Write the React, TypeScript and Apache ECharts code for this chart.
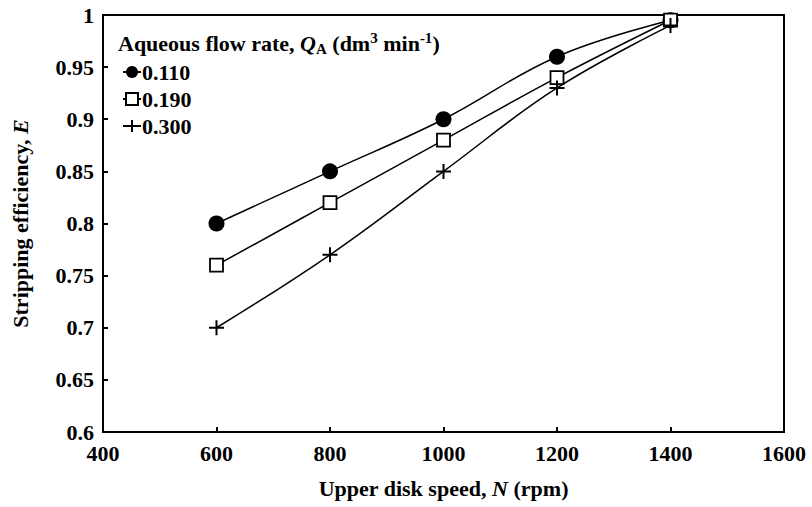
import React, { useEffect, useRef } from "react";
import * as echarts from "echarts";

const speeds = [600, 800, 1000, 1200, 1400];
const seriesNames = ["0.110", "0.190", "0.300"];
const eff110 = [0.8, 0.85, 0.9, 0.96, 0.995];
const eff190 = [0.76, 0.82, 0.88, 0.94, 0.995];
const eff300 = [0.7, 0.77, 0.85, 0.93, 0.99];

const FONT = "Liberation Serif";

export default function App() {
  const ref = useRef<HTMLDivElement>(null);
  useEffect(() => {
    document.body.style.margin = "0";
    const chart = echarts.init(ref.current!, null, { renderer: "svg" });
    const mk = (vals: number[]) => speeds.map((s, i) => [s, vals[i]]);
    const plusPath = "path://M0,10L20,10M10,0L10,20";
    chart.setOption({
      animation: false,
      backgroundColor: "#fff",
      grid: {
        left: 103,
        right: 28,
        top: 15,
        bottom: 75,
        outerBoundsMode: "none",
        containLabel: false,
        show: true,
        borderColor: "#000",
        borderWidth: 2,
      },
      xAxis: {
        type: "value",
        min: 400,
        max: 1600,
        interval: 200,
        name: "Upper disk speed, {i|N} (rpm)",
        nameLocation: "middle",
        nameGap: 45,
        nameTextStyle: {
          fontFamily: FONT,
          fontWeight: "bold",
          fontSize: 22,
          color: "#000",
          rich: { i: { fontFamily: FONT, fontWeight: "bold", fontStyle: "italic", fontSize: 22, color: "#000" } },
        },
        axisLine: { lineStyle: { color: "#000", width: 2 } },
        axisTick: { inside: true, length: 5, lineStyle: { color: "#000", width: 2 } },
        axisLabel: {
          fontFamily: FONT,
          fontWeight: "bold",
          fontSize: 22,
          color: "#000",
          margin: 10,
          formatter: (v: number) => String(v),
        },
        splitLine: { show: false },
      },
      yAxis: {
        type: "value",
        min: 0.6,
        max: 1,
        interval: 0.05,
        name: "Stripping efficiency, {i|E}",
        nameLocation: "middle",
        nameGap: 72,
        nameTextStyle: {
          fontFamily: FONT,
          fontWeight: "bold",
          fontSize: 22,
          color: "#000",
          rich: { i: { fontFamily: FONT, fontWeight: "bold", fontStyle: "italic", fontSize: 22, color: "#000" } },
        },
        axisLine: { lineStyle: { color: "#000", width: 2 } },
        axisTick: { inside: true, length: 5, lineStyle: { color: "#000", width: 2 } },
        axisLabel: {
          fontFamily: FONT,
          fontWeight: "bold",
          fontSize: 22,
          color: "#000",
          margin: 9,
          formatter: (v: number) => String(Math.round(v * 100) / 100),
        },
        splitLine: { show: false },
      },
      legend: {
        orient: "vertical",
        left: 117,
        top: 56,
        itemGap: 5,
        itemWidth: 18,
        itemHeight: 15,
        textStyle: { fontFamily: FONT, fontWeight: "bold", fontSize: 22, color: "#000", padding: [0, 0, 0, -4] },
        data: seriesNames,
      },
      graphic: [
        {
          type: "text",
          left: 118,
          top: 30,
          style: {
            text: "{b|Aqueous flow rate, }{i|Q}{sub|A}{b| (dm}{sup|3}{b| min}{sup|-1}{b|)}",
            rich: {
              b: { fontFamily: FONT, fontWeight: "bold", fontSize: 22, fill: "#000", lineHeight: 26 },
              i: { fontFamily: FONT, fontWeight: "bold", fontStyle: "italic", fontSize: 22, fill: "#000", lineHeight: 26 },
              sub: { fontFamily: FONT, fontWeight: "bold", fontSize: 15, fill: "#000", verticalAlign: "bottom", lineHeight: 17, padding: [9, 0, 0, 0] },
              sup: { fontFamily: FONT, fontWeight: "bold", fontSize: 15, fill: "#000", verticalAlign: "top", lineHeight: 17, padding: [0, 0, 11, 0] },
            },
          },
        },
      ],
      series: [
        {
          name: seriesNames[0],
          type: "line",
          smooth: 0.4,
          data: mk(eff110),
          symbol: "circle",
          symbolSize: 16,
          itemStyle: { color: "#000" },
          lineStyle: { color: "#000", width: 1.5 },
        },
        {
          name: seriesNames[1],
          type: "line",
          smooth: 0.4,
          data: mk(eff190),
          symbol: "rect",
          symbolSize: 13,
          itemStyle: { color: "#fff", borderColor: "#000", borderWidth: 1.8 },
          lineStyle: { color: "#000", width: 1.5 },
        },
        {
          name: seriesNames[2],
          type: "line",
          smooth: 0.4,
          data: mk(eff300),
          symbol: plusPath,
          symbolSize: 15,
          itemStyle: { color: "#000", borderColor: "#000", borderWidth: 2 },
          lineStyle: { color: "#000", width: 1.5 },
        },
      ],
    });
    return () => chart.dispose();
  }, []);
  return <div ref={ref} style={{ width: 812, height: 507 }} />;
}
